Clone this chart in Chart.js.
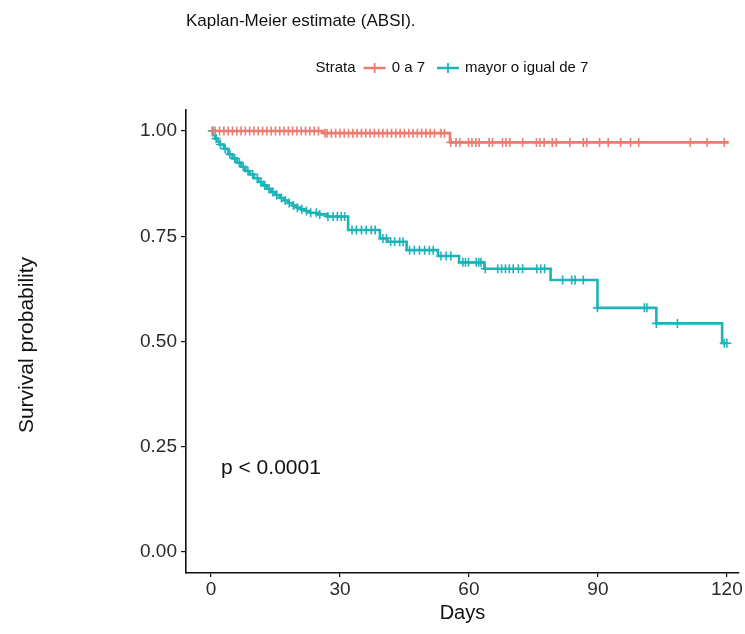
<!DOCTYPE html>
<html><head><meta charset="utf-8">
<script src="https://cdn.jsdelivr.net/npm/chart.js@4"></script>
<style>html,body{margin:0;padding:0;background:#fff}#wrap{width:745px;height:634px;position:relative}</style>
</head><body><div id="wrap"><canvas id="c" width="745" height="634"></canvas></div>
<script>
// ---- data ----
const chartTitle = 'Kaplan-Meier estimate (ABSI).';
const legendTitle = 'Strata';
const strataLabels = ['0 a 7', 'mayor o igual de 7'];
const xTickValues = [0, 30, 60, 90, 120];
const yTickValues = [0, 0.25, 0.5, 0.75, 1];
const xAxisTitle = 'Days';
const yAxisTitle = 'Survival probability';
const pValueText = 'p < 0.0001';

// stratum "0 a 7": step times and survival
const lowTimes = [0, 26, 55.6, 120.4];
const lowSurv  = [1.0, 0.995, 0.973, 0.973];
const lowCensor = [0.5,1,2,3,4,5,6,7,8,9,10,11,12,13,14,15,16,17,18,19,20,21,22,23,24,25,
  26.5,27,28,29,30,31,32,33,34,35,36,37,38,39,40,41,42,43,44,45,46,47,48,49,50,51,52,53.5,54.3,
  55.8,57.0,57.9,59.9,60.7,61.6,62.4,64.7,65.5,67.8,68.6,69.5,72.5,75.7,76.5,77.5,79.4,80.3,
  83.5,86.6,87.4,90.4,92.4,95.3,97.6,99.5,111.5,115.4,119.4];

// stratum "mayor o igual de 7"
const highTimes = [0,0.5,1,1.5,2,3,4,5,6,7,8,9,10,11,12,13,14,15,16,17,18,19,20,21,22,23,25,27,
  31.9,39.3,41,45.5,52.8,57.7,63.6,79,89.9,103.6,118.9,120];
const highSurv = [1.0,0.99,0.982,0.975,0.968,0.958,0.945,0.935,0.925,0.915,0.905,0.897,0.888,
  0.879,0.871,0.863,0.855,0.848,0.841,0.835,0.829,0.823,0.818,0.814,0.81,0.806,0.802,0.797,
  0.765,0.745,0.737,0.717,0.703,0.688,0.673,0.646,0.58,0.543,0.496,0.496];
const highCensor = [0.3,1.2,2.2,3.3,4.4,5.5,6.6,7.5,8.6,9.7,10.8,11.6,12.5,13.5,14.4,15.3,16.4,
  17.3,18.2,19.2,20.1,21.1,22.2,23.2,24.5,25.3,27.2,28.4,29.4,30.3,31.1,32.8,33.8,35.0,36.1,
  37.3,38.2,40.0,40.8,41.8,42.7,43.9,44.7,46.2,47.3,48.5,49.7,50.8,51.7,53.5,54.7,55.8,
  58.6,59.2,59.9,61.7,62.3,62.8,63.8,66.7,67.6,68.5,69.4,70.3,71.5,72.5,75.8,76.7,77.6,
  81.8,83.9,84.7,86.6,89.9,100.8,101.4,103.6,108.5,119.4,120];

// ---- styling ----
const RED = '#EC7B70', CYAN = '#1DB4B9';
const FONT = "'Liberation Sans', Arial, sans-serif";

function steps(times, surv){ return times.map((t,i)=>({x:t,y:surv[i]})); }
function survAt(times, surv, t){ let s = surv[0]; for(let i=0;i<times.length;i++){ if(times[i]<=t) s=surv[i]; } return s; }
function censorPts(c, times, surv){ return c.map(t=>({x:t,y:survAt(times,surv,t)})); }

const decor = {
  id:'decor',
  afterDraw(chart){
    const ctx = chart.ctx;
    ctx.save();
    ctx.fillStyle = '#111';
    ctx.textBaseline = 'middle';
    ctx.textAlign = 'left';
    ctx.font = '17px ' + FONT;
    ctx.fillText(chartTitle, 186, 21);
    // legend
    ctx.font = '15px ' + FONT;
    const y = 68;
    const wS = ctx.measureText(legendTitle).width;
    const w0 = ctx.measureText(strataLabels[0]).width;
    const w1 = ctx.measureText(strataLabels[1]).width;
    const key = 22, total = wS+8+key+6+w0+12+key+6+w1;
    let x = 452 - total/2;
    ctx.fillStyle = '#111';
    ctx.fillText(legendTitle, x, y); x += wS+8;
    const drawKey = (col, x0)=>{ ctx.strokeStyle = col; ctx.lineWidth = 2.5; ctx.beginPath(); ctx.moveTo(x0,y); ctx.lineTo(x0+key,y); ctx.stroke();
      ctx.lineWidth = 1.8; ctx.beginPath(); ctx.moveTo(x0+key/2,y-5); ctx.lineTo(x0+key/2,y+5); ctx.stroke(); };
    drawKey(RED, x); x += key+6;
    ctx.fillText(strataLabels[0], x, y); x += w0+12;
    drawKey(CYAN, x); x += key+6;
    ctx.fillText(strataLabels[1], x, y);
    // p-value
    ctx.font = '21px ' + FONT;
    ctx.fillText(pValueText, 221, 468);
    // y title
    ctx.font = '21px ' + FONT;
    ctx.translate(27, 345);
    ctx.rotate(-Math.PI/2);
    ctx.textAlign = 'center';
    ctx.fillText(yAxisTitle, 0, 0);
    ctx.restore();
  }
};

new Chart(document.getElementById('c'), {
  type: 'scatter',
  data: { datasets: [
    { label: strataLabels[0]+' censor', data: censorPts(lowCensor, lowTimes, lowSurv), pointStyle:'cross', pointRadius:4.5, borderColor:RED, backgroundColor:RED, pointBorderWidth:1.6, showLine:false, order:0 },
    { label: strataLabels[1]+' censor', data: censorPts(highCensor, highTimes, highSurv), pointStyle:'cross', pointRadius:4.5, borderColor:CYAN, backgroundColor:CYAN, pointBorderWidth:1.6, showLine:false, order:0 },
    { label: strataLabels[0], data: steps(lowTimes, lowSurv), showLine:true, stepped:'before', borderColor:RED, borderWidth:2.6, pointRadius:0, fill:false, order:2 },
    { label: strataLabels[1], data: steps(highTimes, highSurv), showLine:true, stepped:'before', borderColor:CYAN, borderWidth:2.6, pointRadius:0, fill:false, order:1 }
  ]},
  options: {
    responsive:false, animation:false, devicePixelRatio:1,
    layout:{ padding:{ top:110, right:0, bottom:9, left:0 } },
    plugins:{ legend:{display:false}, tooltip:{enabled:false}, title:{display:false} },
    scales:{
      x:{ type:'linear', min:-5.81, max:122.8,
        afterBuildTicks:(a)=>{ a.ticks = xTickValues.map(v=>({value:v})); },
        afterFit:(s)=>{ s.height = 52; s.paddingRight = 0; s.paddingLeft = 0; },
        grid:{ drawOnChartArea:false, drawTicks:true, tickLength:4, color:'#111', lineWidth:1.2 },
        border:{ display:true, color:'#111', width:1.6 },
        ticks:{ color:'#2b2b2b', font:{family:FONT, size:19}, padding:1, maxRotation:0, callback:(v)=>String(v) },
        title:{ display:true, text:xAxisTitle, color:'#111', font:{family:FONT, size:20}, padding:{top:0,bottom:0} }
      },
      y:{ type:'linear', min:-0.05, max:1.05,
        afterBuildTicks:(a)=>{ a.ticks = yTickValues.map(v=>({value:v})); },
        afterFit:(s)=>{ s.width = 186; s.paddingTop = 0; s.paddingBottom = 0; },
        grid:{ drawOnChartArea:false, drawTicks:true, tickLength:5, color:'#111', lineWidth:1.2 },
        border:{ display:true, color:'#111', width:1.6 },
        ticks:{ color:'#2b2b2b', font:{family:FONT, size:19}, padding:4, callback:(v)=>Number(v).toFixed(2) }
      }
    }
  },
  plugins:[decor]
});
</script>
</body></html>
